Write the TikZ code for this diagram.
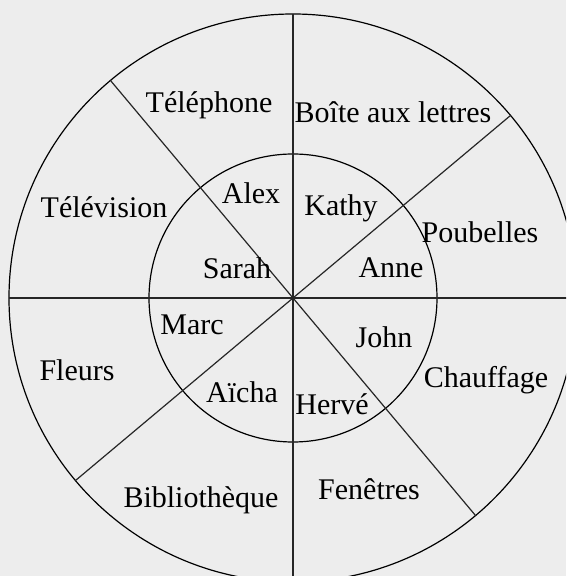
\documentclass[tikz,border=0pt]{standalone}
\usepackage{fontspec}
\setmainfont{Liberation Serif}
\usetikzlibrary{calc}
\definecolor{bgcol}{RGB}{237,237,237}
\tikzset{
  ring/.style={draw=black, line width=1.2pt},
  spoke/.style={draw=black!85, line width=1.2pt},
  lbl/.style={inner sep=0pt, font=\fontsize{30}{35}\selectfont}
}
\begin{document}
\begin{tikzpicture}[x=1pt,y=1pt]
\useasboundingbox (0,0) rectangle (566,576);
\fill[bgcol] (0,0) rectangle (566,576);
\clip (0,0) rectangle (566,576);
\coordinate (C) at (293,278);
\def\Ro{284pt}
\def\Ri{144pt}
\draw[ring] (C) circle[radius=\Ro];
\draw[ring] (C) circle[radius=\Ri];
\foreach \a/\n in {0/e,40/ne,90/n,130/nw,180/w,220/sw,270/s,310/se}{
  \coordinate (p\n) at ($(C)+(\a:\Ro)$);
}
\draw[spoke] (pw) -- (pe);
\draw[spoke] (pn) -- (ps);
\draw[spoke] (pne) -- (psw);
\draw[spoke] (pnw) -- (pse);
\node[lbl] (tel) at (209,471) {Téléphone};
\node[lbl] (boite) at (393,464) {Boîte aux lettres};
\node[lbl] (tv) at (104,369) {Télévision};
\node[lbl] (poub) at (480,344) {Poubelles};
\node[lbl] (alex) at (251,383) {Alex};
\node[lbl] (kathy) at (341,368) {Kathy};
\node[lbl] (sarah) at (237,308) {Sarah};
\node[lbl] (anne) at (391,308) {Anne};
\node[lbl] (marc) at (192,251) {Marc};
\node[lbl] (john) at (384,239) {John};
\node[lbl] (fleurs) at (77,206) {Fleurs};
\node[lbl] (chauf) at (486,196) {Chauffage};
\node[lbl] (aicha) at (242,184) {Aïcha};
\node[lbl] (herve) at (332,172) {Hervé};
\node[lbl] (fen) at (369,87) {Fenêtres};
\node[lbl] (biblio) at (201,76) {Bibliothèque};
\end{tikzpicture}
\end{document}
